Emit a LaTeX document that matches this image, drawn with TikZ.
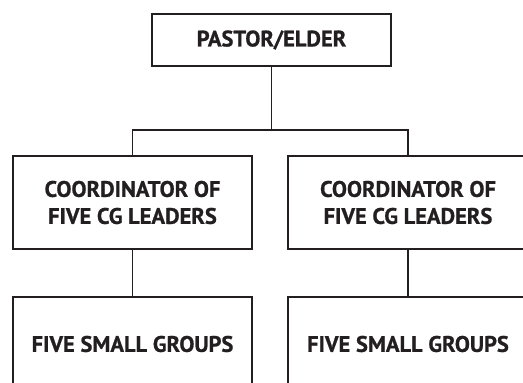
\documentclass[tikz,border=0pt]{standalone}
\usepackage{fontspec}
\setmainfont{PT Sans}[BoldFeatures={FakeBold=0.8}]
\definecolor{ink}{HTML}{231F20}
\begin{document}
\begin{tikzpicture}[x=1pt,y=-1pt,
  box/.style={draw=ink,line width=1.1pt,inner sep=0pt,align=center,
    font=\fontsize{22.5}{27}\selectfont\bfseries,text=ink},
  conn/.style={draw=ink,line width=1.1pt}]
\useasboundingbox (0,0) rectangle (523,383);
\clip (0,0) rectangle (523,383);
\node[box,minimum width=239pt,minimum height=52pt] (pastor) at (271.5,40) {PASTOR/ELDER};
\node[box,line width=2pt,minimum width=239pt,minimum height=93pt] (coordL) at (132.5,202.5) {COORDINATOR OF\\FIVE CG LEADERS};
\node[box,minimum width=240pt,minimum height=93pt] (coordR) at (408,202.5) {COORDINATOR OF\\FIVE CG LEADERS};
\node[box,minimum width=239pt,minimum height=94pt] (groupL) at (132.5,344) {FIVE SMALL GROUPS};
\node[box,minimum width=240pt,minimum height=94pt] (groupR) at (408,344) {FIVE SMALL GROUPS};
\coordinate (bus) at (270,130);
\draw[conn] (pastor.south) -- (pastor.south |- bus);
\draw[conn] (coordL.north) |- (bus) -| (coordR.north);
\draw[conn] (coordL.south) -- (groupL.north);
\draw[conn] (coordR.south) -- (groupR.north);
\end{tikzpicture}
\end{document}
